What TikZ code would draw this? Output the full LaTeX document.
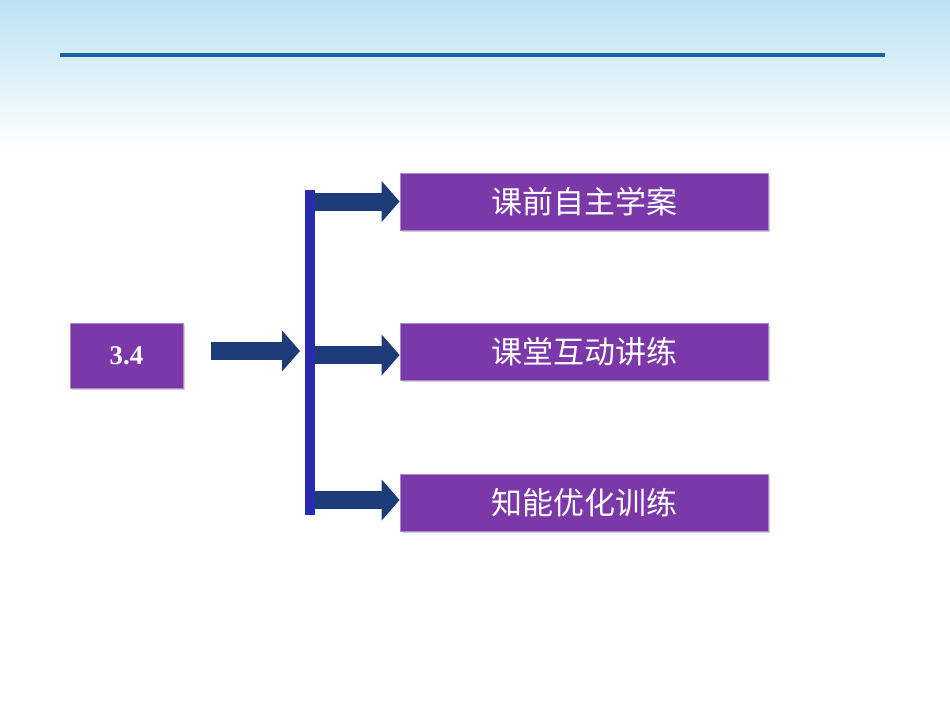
\documentclass[tikz,border=0pt]{standalone}
\usepackage{fontspec}
\newfontfamily\cjk{Noto Sans CJK SC}
\setmainfont{Liberation Serif}
\usetikzlibrary{arrows.meta,shadows}
\definecolor{boxp}{HTML}{7A38A8}
\definecolor{navy}{HTML}{1C3B78}
\definecolor{barb}{HTML}{2B2BB0}
\definecolor{sky}{HTML}{BDE2F4}
\definecolor{rule}{HTML}{1F5FA8}
\begin{document}
\begin{tikzpicture}[x=1pt,y=-1pt,
  box/.style={draw=boxp!60!white,line width=0.8pt,fill=boxp,text=white,
     drop shadow={shadow xshift=2pt,shadow yshift=-2pt,opacity=0.35},
     minimum width=368pt,minimum height=57pt,inner sep=0pt,
     font=\cjk\fontsize{31}{31}\selectfont},
  arr/.style={navy,line width=18pt,-{Triangle[length=18pt,width=40pt]}}]
\useasboundingbox (0,0) rectangle (950,713);
\shade[top color=sky,bottom color=white] (0,0) rectangle (950,150);
\fill[white] (0,150) rectangle (950,713);
\draw[rule,line width=4pt] (60,55) -- (885,55);
\node[box,minimum width=113pt,minimum height=65pt,font=\bfseries\fontsize{27}{27}\selectfont] (s) at (126.5,355.5) {3.4};
\node[box] (a) at (584,201.5) {课前自主学案};
\node[box] (b) at (584,351.5) {课堂互动讲练};
\node[box] (c) at (584,502.5) {知能优化训练};
\fill[barb] (305,190) rectangle (315,515);
\coordinate (bt) at (315,201.5);
\coordinate (bm) at (315,355);
\coordinate (bb) at (315,500);
\coordinate (in0) at (211,351);
\coordinate (in1) at (300,351);
\draw[arr] (in0) -- (in1);
\draw[arr] (bt) -- (a.west);
\draw[arr] (bm) -- (bm -| b.west);
\draw[arr] (bb) -- (bb -| c.west);
\end{tikzpicture}
\end{document}
